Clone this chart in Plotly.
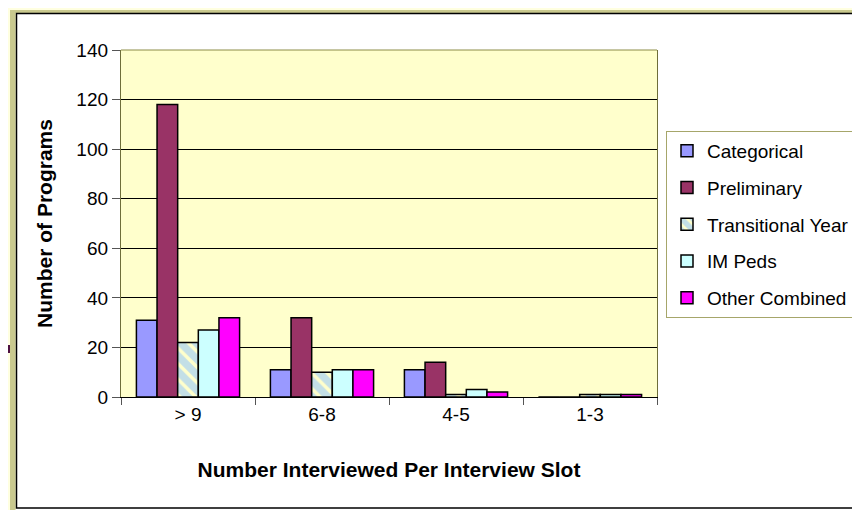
import plotly.graph_objects as go

categories = ["> 9", "6-8", "4-5", "1-3"]
categorical = [31, 11, 11, 0]
preliminary = [118, 32, 14, 0]
transitional = [22, 10, 1, 1]
im_peds = [27, 11, 3, 1]
other_combined = [32, 11, 2, 1]

FONT = "Liberation Sans, Arial, sans-serif"

# the page body adds an 8px margin, so the figure is drawn 8px in from the corner
OFF = 8
W, H = 860 - OFF, 510 - OFF
# plot area in reference pixels
L, R, T, B = 121, 657, 50, 397


def px(x):
    return (x - L) / (R - L)


def py(y):
    return (B - y) / (B - T)


fig = go.Figure()

series = [
    ("Categorical", categorical, dict(color="#9999FF")),
    ("Preliminary", preliminary, dict(color="#993366")),
    ("Transitional Year", transitional,
     dict(color="#FFFFCC", pattern=dict(shape="\\", fgcolor="#88BFFF", bgcolor="#FFFFCC",
                                        size=11, solidity=0.68))),
    ("IM Peds", im_peds, dict(color="#CCFFFF")),
    ("Other Combined", other_combined, dict(color="#FF00FF")),
]

for i, (name, vals, marker) in enumerate(series):
    marker["line"] = dict(color="black", width=1.5)
    fig.add_trace(go.Bar(
        x=categories, y=vals, name=name, marker=marker,
        legendgroup=f"g{i}",
    ))


def rect(x0, x1, y0, y1, **kw):
    return dict(type="rect", xref="paper", yref="paper",
                x0=px(x0), x1=px(x1), y0=py(y1), y1=py(y0), **kw)


shapes = [
    # outer slide strips
    rect(-10, 16, -10, 520, fillcolor="#FFFFE0", line_width=0),
    rect(-10, 870, -10, 13, fillcolor="#FFFFE0", line_width=0),
    rect(0, 10, 345, 353, fillcolor="#4D1040", line_width=0),
    rect(10, 15.5, 10, 520, fillcolor="#C9C98E", line_width=0),
    rect(10, 870, 10, 13, fillcolor="#C9C98E", line_width=0),
    # chart area border
    rect(16.5, 880, 13.5, 508, line=dict(color="black", width=1.5),
         fillcolor="rgba(0,0,0,0)"),
    # top edge of plot area
    dict(type="line", x0=0, x1=1, y0=1, y1=1, xref="paper", yref="paper",
         line=dict(color="#8C8C46", width=1)),
]

fig.update_layout(
    width=W, height=H,
    barmode="group", bargap=0.23, bargroupgap=0,
    paper_bgcolor="white", plot_bgcolor="#FFFFCC",
    margin=dict(l=L - OFF, r=W - (R - OFF), t=T - OFF, b=H - (B - OFF), autoexpand=False),
    font=dict(family=FONT, size=19, color="black"),
    xaxis=dict(
        title=dict(text="Number Interviewed Per Interview Slot",
                   font=dict(size=21, weight="bold"), standoff=38),
        showline=True, linecolor="black", linewidth=1.3,
        ticks="outside", tickson="boundaries", ticklen=7, tickcolor="#555555",
        showgrid=False, automargin=False,
    ),
    yaxis=dict(
        title=dict(text="Number of Programs",
                   font=dict(size=21, weight="bold"), standoff=17),
        range=[0, 140], dtick=20,
        showline=True, linecolor="#6E6E3A", linewidth=1.3, mirror=True,
        ticks="outside", ticklen=8, tickcolor="#555555",
        showgrid=True, gridcolor="black", gridwidth=1,
        zeroline=False, automargin=False,
    ),
    legend=dict(
        x=px(666), y=py(131), xanchor="left", yanchor="top",
        bgcolor="white", bordercolor="#A6A66A", borderwidth=1,
        font=dict(size=19), tracegroupgap=9,
    ),
    shapes=shapes,
)

fig.write_html("out.html")
